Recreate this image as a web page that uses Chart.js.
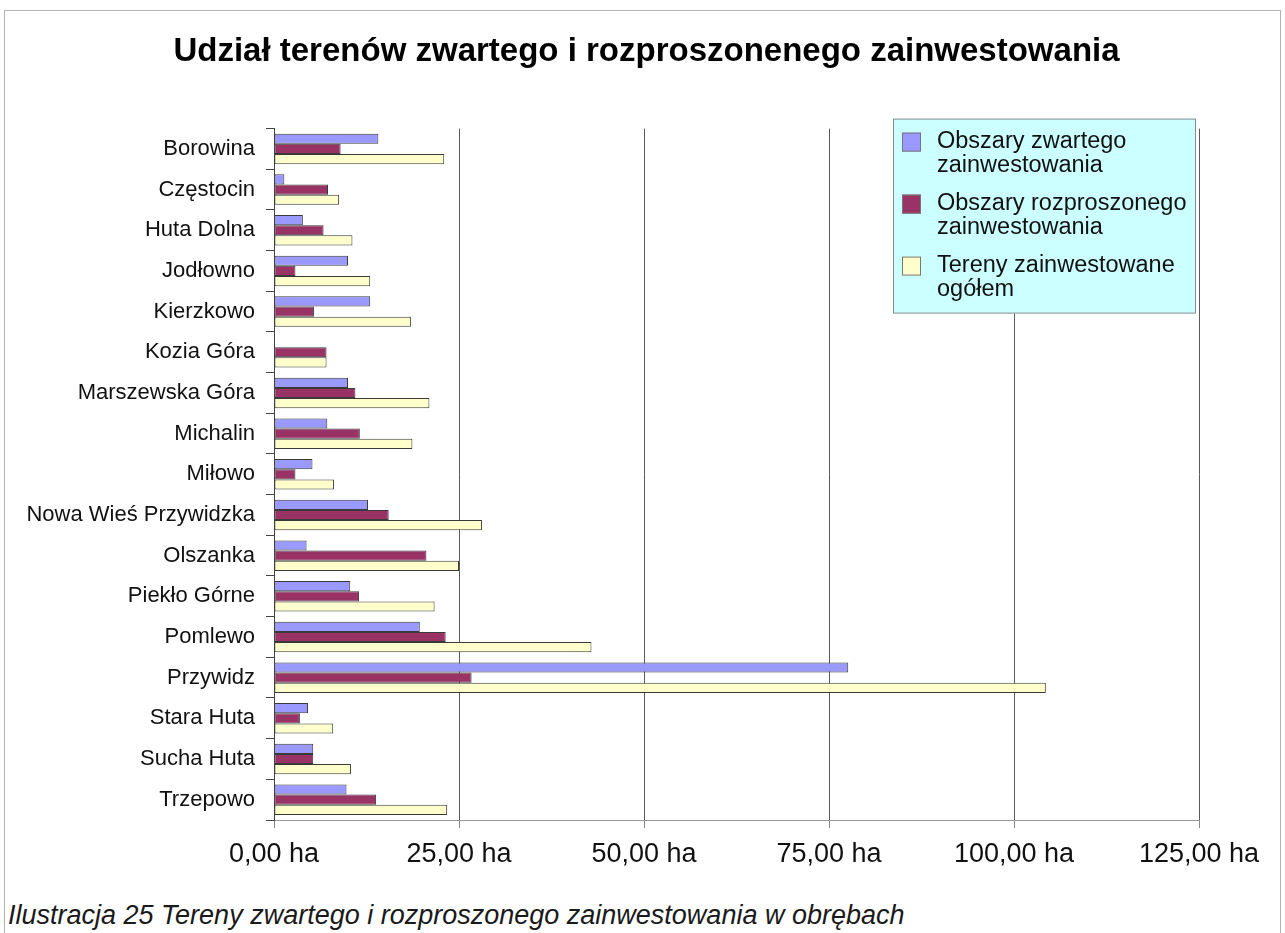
<!DOCTYPE html>
<html lang="pl">
<head>
<meta charset="utf-8">
<title>Udział terenów zwartego i rozproszonenego zainwestowania</title>
<script src="https://cdn.jsdelivr.net/npm/chart.js@4.4.1/dist/chart.umd.min.js"></script>
<style>
  body { margin: 0; background: #fff; width: 1285px; height: 933px; overflow: hidden; position: relative; font-family: 'Liberation Sans', Arial, sans-serif; }
  #frame { position: absolute; left: 4px; top: 10px; width: 1277px; height: 930px; border: 1px solid #b4b4b4; border-bottom: none; box-sizing: border-box; }
  #chart { position: absolute; left: 0; top: 0; }
  #caption { position: absolute; left: 8px; top: 900px; font-style: italic; font-size: 27px; line-height: 30px; color: #1a1a1a; white-space: nowrap; }
</style>
</head>
<body>
<div id="frame"></div>
<canvas id="chart" width="1285" height="890"></canvas>
<div id="caption">Ilustracja 25 Tereny zwartego i rozproszonego zainwestowania w obrębach</div>
<script>
const categories = ['Borowina', 'Częstocin', 'Huta Dolna', 'Jodłowno', 'Kierzkowo', 'Kozia Góra',
    'Marszewska Góra', 'Michalin', 'Miłowo', 'Nowa Wieś Przywidzka', 'Olszanka', 'Piekło Górne',
    'Pomlewo', 'Przywidz', 'Stara Huta', 'Sucha Huta', 'Trzepowo'];

const seriesNames = ['Obszary zwartego zainwestowania', 'Obszary rozproszonego zainwestowania', 'Tereny zainwestowane ogółem'];

const zwarte = [14.1, 1.4, 3.9, 10.0, 13.0, 0, 10.0, 7.2, 5.2, 12.7, 4.4, 10.3, 19.7, 77.6, 4.6, 5.3, 9.8];
const rozproszone = [9.0, 7.3, 6.7, 2.9, 5.4, 7.1, 11.0, 11.6, 2.9, 15.5, 20.6, 11.5, 23.2, 26.7, 3.5, 5.3, 13.8];
const ogolem = [23.0, 8.8, 10.6, 13.0, 18.5, 7.1, 21.0, 18.7, 8.1, 28.1, 25.0, 21.7, 42.9, 104.3, 8.0, 10.4, 23.4];

const xTicks = [0, 25, 50, 75, 100, 125];

const colors = ['#9999ff', '#993366', '#ffffcc'];

Chart.defaults.font.family = "'Liberation Sans', Arial, sans-serif";
Chart.defaults.color = '#111';

// title is centred over the whole frame, not only over the plot
const shiftTitle = {
    id: 'shiftTitle',
    afterLayout(chart) {
        if (chart.titleBlock) {
            chart.titleBlock.left += 94;
        }
    }
};

// legend box drawn inside the plot, top right corner
const boxLegend = {
    id: 'boxLegend',
    afterDraw(chart) {
        const ctx = chart.ctx;
        const area = chart.chartArea;
        const w = 303, h = 195;
        const left = area.right - 3 - w;
        const top = area.top - 10;
        ctx.save();
        ctx.fillStyle = '#ccffff';
        ctx.fillRect(left, top, w, h);
        ctx.strokeStyle = '#8c8c8c';
        ctx.lineWidth = 1;
        ctx.strokeRect(left + 0.5, top + 0.5, w - 1, h - 1);
        ctx.font = "23.5px 'Liberation Sans', Arial, sans-serif";
        ctx.textBaseline = 'middle';
        ctx.textAlign = 'left';
        chart.data.datasets.forEach((ds, i) => {
            const y0 = top + 23 + i * 62;
            ctx.fillStyle = ds.backgroundColor;
            ctx.fillRect(left + 9, y0 - 9, 19, 19);
            ctx.strokeStyle = '#777';
            ctx.strokeRect(left + 9.5, y0 - 8.5, 18, 18);
            const cut = ds.label.lastIndexOf(' ');
            const lines = [ds.label.slice(0, cut), ds.label.slice(cut + 1)];
            ctx.fillStyle = '#111';
            lines.forEach((line, j) => ctx.fillText(line, left + 44, y0 + j * 24));
        });
        ctx.restore();
    }
};

new Chart(document.getElementById('chart'), {
    type: 'bar',
    data: {
        labels: categories,
        datasets: [
            { label: seriesNames[0], data: zwarte, backgroundColor: colors[0] },
            { label: seriesNames[1], data: rozproszone, backgroundColor: colors[1] },
            { label: seriesNames[2], data: ogolem, backgroundColor: colors[2] }
        ]
    },
    options: {
        indexAxis: 'y',
        responsive: false,
        animation: false,
        datasets: {
            bar: {
                borderColor: '#3a3a3a',
                borderWidth: 1,
                borderSkipped: false,
                barPercentage: 1,
                categoryPercentage: 0.75
            }
        },
        layout: { padding: { left: 0, right: 86, top: 0, bottom: 0 } },
        plugins: {
            legend: { display: false },
            tooltip: { enabled: false },
            title: {
                display: true,
                text: 'Udział terenów zwartego i rozproszonenego zainwestowania',
                color: '#000',
                font: { size: 33, weight: 'bold' },
                padding: { top: 32, bottom: 57 }
            }
        },
        scales: {
            x: {
                min: 0,
                max: 125,
                afterBuildTicks: (scale) => { scale.ticks = xTicks.map(v => ({ value: v })); },
                afterFit: (scale) => { scale.height = 70; },
                grid: { color: '#5a5a5a', tickLength: 8, tickColor: '#888' },
                border: { color: '#9a9a9a' },
                ticks: {
                    padding: 10,
                    color: '#111',
                    font: { size: 27 },
                    maxRotation: 0,
                    callback: (v) => v.toFixed(2).replace('.', ',') + ' ha'
                }
            },
            y: {
                afterFit: (scale) => { scale.width = 274; },
                grid: { drawOnChartArea: false, tickLength: 8, color: '#444' },
                border: { color: '#444' },
                ticks: { padding: 11, color: '#111', font: { size: 22 } }
            }
        }
    },
    plugins: [shiftTitle, boxLegend]
});
</script>
</body>
</html>
